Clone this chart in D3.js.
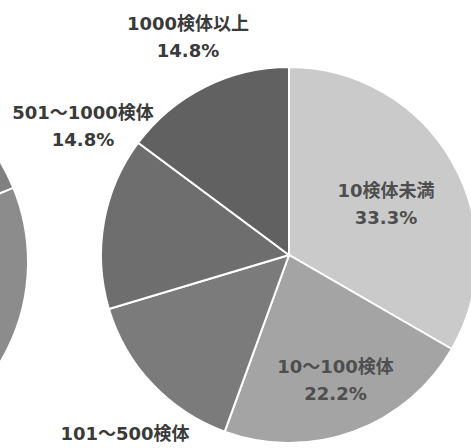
<!DOCTYPE html>
<html>
<head>
<meta charset="utf-8">
<script src="https://cdn.jsdelivr.net/npm/d3@7/dist/d3.min.js"></script>
<style>
  html, body { margin: 0; padding: 0; background: #ffffff; }
  svg { display: block; }
  text { font-family: "DejaVu Sans", "Noto Sans CJK JP", sans-serif; }
</style>
</head>
<body>
<svg id="chart" width="471" height="448"></svg>
<script>
// Sample-count shares
const categories = ["10検体未満", "10～100検体", "101～500検体", "501～1000検体", "1000検体以上"];
const shares = [33.3, 22.2, 14.8, 14.8, 14.8];
const sliceColors = ["#cacaca", "#a4a4a4", "#7b7b7b", "#6e6e6e", "#616161"];

// Neighbouring pie (only its right edge fits in the frame)
const neighbourShares = [18.8, 81.2];
const neighbourColors = ["#808080", "#8c8c8c"];

const svg = d3.select("#chart");

// layout
const cx = 289, cy = 255, R = 188;
const ncx = -167, ncy = 262, nR = 195;

const pie = d3.pie().sort(null).value(d => d).startAngle(0).endAngle(2 * Math.PI);

// neighbouring pie
const nArc = d3.arc().innerRadius(0).outerRadius(nR);
svg.append("g")
  .attr("transform", `translate(${ncx},${ncy})`)
  .selectAll("path")
  .data(pie(neighbourShares))
  .join("path")
  .attr("d", nArc)
  .attr("fill", (d, i) => neighbourColors[i])
  .attr("stroke", "#ffffff")
  .attr("stroke-width", 2);

// main pie
const arc = d3.arc().innerRadius(0).outerRadius(R);
const g = svg.append("g").attr("transform", `translate(${cx},${cy})`);
const arcs = pie(shares);
g.selectAll("path")
  .data(arcs)
  .join("path")
  .attr("d", arc)
  .attr("fill", (d, i) => sliceColors[i])
  .attr("stroke", "#ffffff")
  .attr("stroke-width", 2);

// data labels: inside labels sit on a centroid ring, outside ones are nudged clear of the pie;
// the lowest label runs past the bottom edge, so only its name line is drawn
const labelLayout = [
  { r: 112, dx: 0, dy: 3, inside: true, pct: true },
  { r: 136, dx: 0, dy: -4, inside: true, pct: true },
  { x: -164, y: 190, inside: false, pct: false },
  { x: -206, y: -131, inside: false, pct: true },
  { x: -101, y: -220, inside: false, pct: true }
];

const fmt = v => v.toFixed(1) + "%";

arcs.forEach((a, i) => {
  const L = labelLayout[i];
  let x, y;
  if (L.inside) {
    const mid = (a.startAngle + a.endAngle) / 2;
    x = Math.sin(mid) * L.r + L.dx;
    y = -Math.cos(mid) * L.r + L.dy;
  } else {
    x = L.x; y = L.y;
  }
  const t = g.append("text")
    .attr("text-anchor", "middle")
    .attr("font-size", 18)
    .attr("fill", L.inside ? "#4e4e4e" : "#3a3a3a")
    .attr("font-weight", "bold")
    .attr("x", x).attr("y", y);
  t.append("tspan").attr("x", x).attr("dy", "-0.3em").text(categories[i]);
  if (L.pct) t.append("tspan").attr("x", x).attr("dy", "1.5em").text(fmt(shares[i]));
});
</script>
</body>
</html>
